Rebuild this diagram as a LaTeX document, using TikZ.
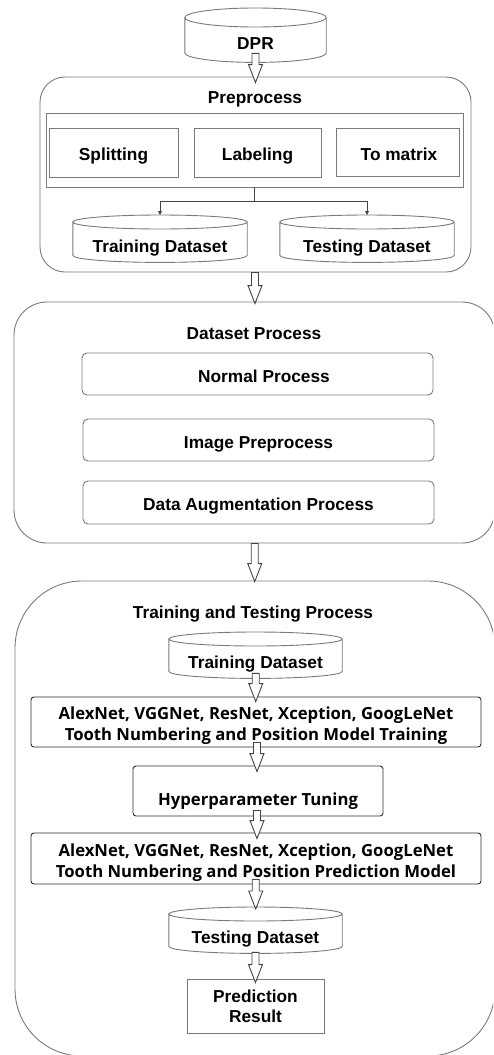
\documentclass[tikz,border=0pt]{standalone}
\usepackage{fontspec}
\setmainfont{Liberation Sans}
\newfontfamily\osans{Open Sans}
\usetikzlibrary{arrows.meta,calc,backgrounds}
\definecolor{lg}{HTML}{7A7A7A}
\definecolor{dg}{HTML}{2E2E2E}
\definecolor{ag}{HTML}{444444}
\tikzset{
  every node/.style={inner sep=0pt, font=\fontsize{17.3}{20}\selectfont\bfseries},
  lbl/.style={text height=16pt, text depth=0pt},
  outer/.style={draw=lg, line width=0.9pt},
  gbox/.style={draw=lg, line width=0.9pt},
  dbox/.style={draw=dg, line width=0.9pt, rounded corners=3pt, align=center,
    font=\osans\fontsize{16.7}{21}\selectfont\bfseries},
  cylline/.style={draw=lg, fill=white, line width=0.9pt},
  barr/.style={draw=ag, fill=white, line width=0.9pt, line join=miter},
  conn/.style={draw=ag, line width=0.8pt, -{Triangle[length=4pt,width=4pt]}},
}
\newcommand\cyl[2]{%
  \draw[cylline] let \p1=(#1.north west), \p2=(#1.south east), \n1={(\x2-\x1)/2} in
    (\x1,\y1-#2pt) -- (\x1,\y2+#2pt)
    arc[start angle=180,end angle=360,x radius=\n1,y radius=#2pt]
    -- (\x2,\y1-#2pt)
    arc[start angle=0,end angle=180,x radius=\n1,y radius=#2pt]
    arc[start angle=180,end angle=360,x radius=\n1,y radius=#2pt];}
\newcommand\barrow[4]{%
  \draw[barr] let \p1=([yshift=#3pt]#1), \p2=([yshift=-#4pt]#2), \n1={(\x1+\x2)/2} in
    (\n1-3.5pt,\y1) -- (\n1-3.5pt,\y2+18pt) -- (\n1-7pt,\y2+18pt) -- (\n1,\y2)
    -- (\n1+7pt,\y2+18pt) -- (\n1+3.5pt,\y2+18pt) -- (\n1+3.5pt,\y1) -- cycle;}
\begin{document}
\begin{tikzpicture}[x=1pt,y=-1pt]
\useasboundingbox (0,0) rectangle (493,1055);
\clip (0,0) rectangle (493,1055);

% DPR
\node[minimum width=141, text height=41.2pt, text depth=12.8pt, anchor=north] (dpr) at (255.5,8) {DPR};

% Preprocess
\node[outer, rounded corners=25pt, minimum width=431, minimum height=195] (pre) at (255.5,174.5) {};
\node[lbl] (pret) at (255,95) {Preprocess};
\node[gbox, minimum width=417, minimum height=74] (inner) at (254.5,150) {};
\node[gbox, lbl, minimum width=129, minimum height=49] (split) at (113.5,152.5) {Splitting};
\node[gbox, lbl, minimum width=127, minimum height=49] (lab) at (257.5,152.5) {Labeling};
\node[gbox, lbl, minimum width=123, minimum height=48] (tom) at (397.5,152) {\hspace*{3pt}To matrix};
\node[minimum width=174, text height=37.2pt, text depth=9.8pt, anchor=north] (trd) at (160,215) {Training Dataset};
\node[minimum width=174, text height=37.2pt, text depth=9.8pt, anchor=north] (tsd) at (367,215) {Testing Dataset};
\draw[conn] (inner.south) -- ++(0,14) -| (trd.north);
\draw[conn] (inner.south) -- ++(0,14) -| (tsd.north);

% Dataset Process
\node[outer, rounded corners=33pt, minimum width=481, minimum height=241] (ds) at (254.5,422.5) {};
\node[lbl] (dst) at (254,331) {Dataset Process};
\node[gbox, lbl, rounded corners=5pt, minimum width=351, minimum height=42] (np) at (257.5,374) {\hspace*{13pt}Normal Process};
\node[gbox, lbl, rounded corners=5pt, minimum width=351, minimum height=42] (ip) at (258.5,440) {Image Preprocess};
\node[gbox, lbl, rounded corners=5pt, minimum width=351, minimum height=43] (da) at (258.5,502.5) {Data Augmentation Process};

% Training and Testing
\node[outer, rounded corners=67pt, minimum width=480, minimum height=475] (tt) at (255,818.5) {};
\node[lbl] (ttt) at (253,610) {Training and Testing Process};
\node[minimum width=173, text height=36.2pt, text depth=9.8pt, anchor=north] (trd2) at (255.5,632) {Training Dataset};
\node[dbox, minimum width=450, minimum height=50, text height=36pt, text depth=0pt] (an1) at (256,722) {AlexNet, VGGNet, ResNet, Xception, GoogLeNet\\Tooth Numbering and Position Model Training};
\node[dbox, minimum width=250, minimum height=50, text height=29.4pt, text depth=0pt] (hyp) at (258,791) {Hyperparameter Tuning};
\node[dbox, minimum width=450, minimum height=51, text height=37pt, text depth=0pt] (an2) at (256,858.5) {AlexNet, VGGNet, ResNet, Xception, GoogLeNet\\Tooth Numbering and Position Prediction Model};
\node[minimum width=173, text height=36.2pt, text depth=9.8pt, anchor=north] (tsd2) at (255.5,907) {Testing Dataset};
\node[gbox, minimum width=137, minimum height=54, align=center] (pred) at (255.5,1006) {Prediction\\Result};

\begin{scope}[on background layer]
\cyl{dpr}{9.5}
\cyl{trd}{7}
\cyl{tsd}{7}
\cyl{trd2}{7}
\cyl{tsd2}{7}
\end{scope}

% block arrows
\barrow{dpr.south}{pre.north}{9}{6}
\barrow{pre.south}{ds.north}{0}{2}
\barrow{ds.south}{tt.north}{0}{1}
\barrow{trd2.south}{an1.north}{5}{5}
\barrow{an1.south}{hyp.north}{5}{6}
\barrow{hyp.south}{an2.north}{6}{6}
\barrow{an2.south}{tsd2.north}{5}{2}
\barrow{tsd2.south}{pred.north}{1}{4}
\end{tikzpicture}
\end{document}
